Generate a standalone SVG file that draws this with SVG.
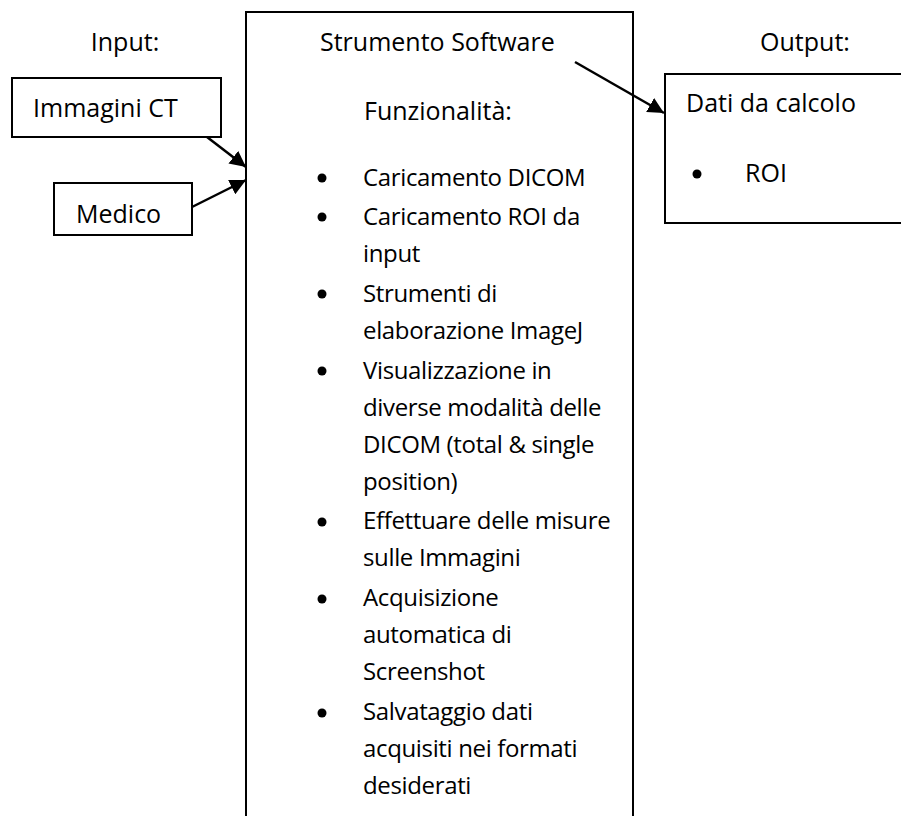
<svg xmlns="http://www.w3.org/2000/svg" width="901" height="816" viewBox="0 0 901 816">
  <style>
    .box { fill: none; stroke: #000; stroke-width: 2; }
    .lbl { font-family: "Open Sans", "Liberation Sans", sans-serif; font-size: 25px; fill: #000; }
    .item { font-family: "Open Sans", "Liberation Sans", sans-serif; font-size: 24px; letter-spacing: -0.35px; fill: #000; }
    .link { stroke: #000; stroke-width: 2.5; fill: none; marker-end: url(#head); }
    .dot { fill: #000; }
  </style>
  <defs>
    <marker id="head" markerUnits="userSpaceOnUse" markerWidth="18" markerHeight="16" refX="16" refY="8" orient="auto">
      <path d="M0,0 L16,8 L0,16 Z" fill="#000"/>
    </marker>
  </defs>

  <rect width="901" height="816" fill="#fff"/>

  <!-- column headings -->
  <text class="lbl" x="125" y="51" text-anchor="middle">Input:</text>
  <text class="lbl" x="805" y="51" text-anchor="middle">Output:</text>

  <!-- input sources -->
  <g id="immagini-ct">
    <rect class="box" x="12" y="78" width="209" height="59"/>
    <text class="lbl" x="33" y="117">Immagini CT</text>
  </g>
  <g id="medico">
    <rect class="box" x="54" y="183" width="138" height="52"/>
    <text class="lbl" x="76" y="223">Medico</text>
  </g>

  <!-- software tool, open at the bottom -->
  <g id="strumento-software">
    <path class="box" d="M246,830 V12 H633 V830"/>
    <text class="lbl" x="320" y="51">Strumento Software</text>
    <text class="lbl" x="364" y="120">Funzionalità:</text>
    <g class="item">
      <circle class="dot" cx="322" cy="178" r="4.5"/>
      <text x="363" y="186">Caricamento DICOM</text>
      <circle class="dot" cx="322" cy="217" r="4.5"/>
      <text x="363" y="225">Caricamento ROI da</text>
      <text x="363" y="262">input</text>
      <circle class="dot" cx="322" cy="294" r="4.5"/>
      <text x="363" y="302">Strumenti di</text>
      <text x="363" y="339">elaborazione ImageJ</text>
      <circle class="dot" cx="322" cy="371" r="4.5"/>
      <text x="363" y="379">Visualizzazione in</text>
      <text x="363" y="416">diverse modalità delle</text>
      <text x="363" y="453">DICOM (total &amp; single</text>
      <text x="363" y="490">position)</text>
      <circle class="dot" cx="322" cy="522" r="4.5"/>
      <text x="363" y="529">Effettuare delle misure</text>
      <text x="363" y="566">sulle Immagini</text>
      <circle class="dot" cx="322" cy="599" r="4.5"/>
      <text x="363" y="606">Acquisizione</text>
      <text x="363" y="643">automatica di</text>
      <text x="363" y="680">Screenshot</text>
      <circle class="dot" cx="322" cy="713" r="4.5"/>
      <text x="363" y="720">Salvataggio dati</text>
      <text x="363" y="757">acquisiti nei formati</text>
      <text x="363" y="794">desiderati</text>
    </g>
  </g>

  <!-- output data, open on the right -->
  <g id="dati-da-calcolo">
    <path class="box" d="M910,74 H665 V223 H910"/>
    <text class="lbl" x="686" y="112">Dati da calcolo</text>
    <circle class="dot" cx="697" cy="174" r="4.5"/>
    <text class="lbl" x="745" y="182">ROI</text>
  </g>

  <!-- connectors -->
  <g id="connectors">
    <line class="link" x1="207" y1="137" x2="246" y2="167"/>
    <line class="link" x1="192" y1="207" x2="246" y2="180"/>
    <line class="link" x1="575" y1="62" x2="664" y2="113"/>
  </g>
</svg>
